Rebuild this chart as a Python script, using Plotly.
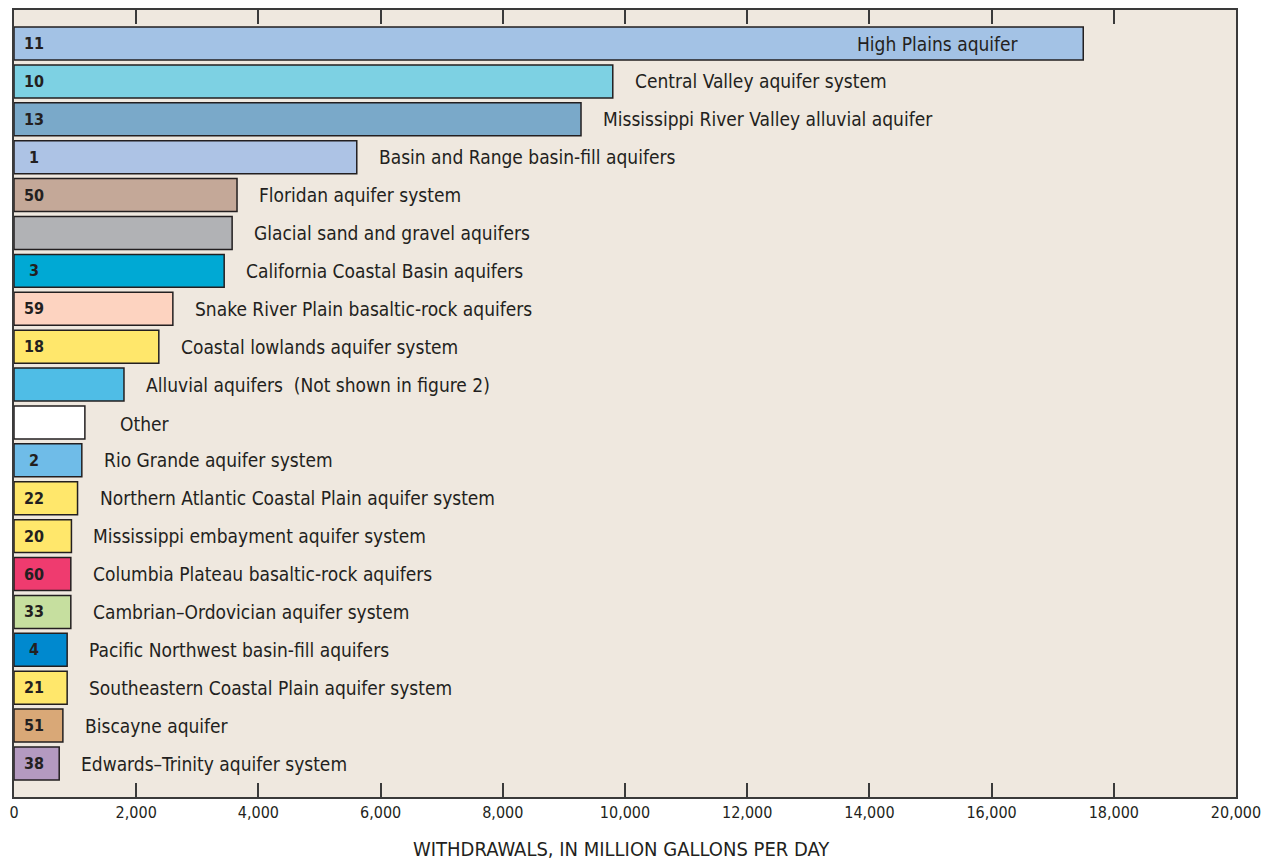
import plotly.graph_objects as go

names = [
    "High Plains aquifer",
    "Central Valley aquifer system",
    "Mississippi River Valley alluvial aquifer",
    "Basin and Range basin-fill aquifers",
    "Floridan aquifer system",
    "Glacial sand and gravel aquifers",
    "California Coastal Basin aquifers",
    "Snake River Plain basaltic-rock aquifers",
    "Coastal lowlands aquifer system",
    "Alluvial aquifers  (Not shown in figure 2)",
    "Other",
    "Rio Grande aquifer system",
    "Northern Atlantic Coastal Plain aquifer system",
    "Mississippi embayment aquifer system",
    "Columbia Plateau basaltic-rock aquifers",
    "Cambrian\u2013Ordovician aquifer system",
    "Pacific Northwest basin-fill aquifers",
    "Southeastern Coastal Plain aquifer system",
    "Biscayne aquifer",
    "Edwards\u2013Trinity aquifer system",
]
withdrawals = [17500, 9800, 9280, 5610, 3650, 3570, 3440, 2600, 2370, 1800,
               1160, 1110, 1040, 940, 930, 930, 870, 870, 800, 740]
ids = ["11", "10", "13", "1", "50", "", "3", "59", "18", "", "",
       "2", "22", "20", "60", "33", "4", "21", "51", "38"]
colors = ["#a3c2e5", "#7dd1e3", "#7aa9c9", "#adc3e5", "#c4a898", "#b1b2b5",
          "#00a9d4", "#fdd3c0", "#ffe76b", "#4fbde6", "#ffffff", "#6fbce8",
          "#ffe76b", "#ffe76b", "#ef3b6f", "#c6df9f", "#0089cf", "#ffe76b",
          "#d9a877", "#b49ac0"]
xticks = [0, 2000, 4000, 6000, 8000, 10000, 12000, 14000, 16000, 18000, 20000]
xtick_text = ["0", "2,000", "4,000", "6,000", "8,000", "10,000", "12,000",
              "14,000", "16,000", "18,000", "20,000"]
x_title = "WITHDRAWALS, IN MILLION GALLONS PER DAY"

FONT = "Liberation Sans Narrow, DejaVu Sans Condensed, Arial Narrow, sans-serif"
TXT = "#231f20"

pos = list(range(len(names)))

fig = go.Figure()
fig.add_trace(go.Bar(
    x=withdrawals, y=pos, orientation="h", width=0.87,
    marker=dict(color=colors, line=dict(color=TXT, width=1.5)),
    hoverinfo="skip",
))

anns = []
for i, (n, v, idn) in enumerate(zip(names, withdrawals, ids)):
    if i == 0:
        anns.append(dict(x=v, y=i, text=n, showarrow=False, xanchor="right",
                         xshift=-62, font=dict(family=FONT, size=19, color=TXT)))
    else:
        shift = 33 if n == "Other" else 20
        anns.append(dict(x=v, y=i, text=n, showarrow=False, xanchor="left",
                         xshift=shift, yshift=-2 if n == "Other" else 0,
                         font=dict(family=FONT, size=19, color=TXT)))
    if idn:
        anns.append(dict(x=0, y=i, text="<b>" + idn + "</b>", showarrow=False,
                         xanchor="center", xshift=19.5,
                         font=dict(family=FONT, size=16, color=TXT)))

anns.append(dict(x=0.497, y=0, xref="paper", yref="paper", text=x_title,
                 showarrow=False, xanchor="center", yanchor="middle",
                 yshift=-52, font=dict(family=FONT, size=20, color=TXT)))

fig.update_layout(
    width=1266, height=865, autosize=False,
    margin=dict(l=14, r=30, t=10, b=68, autoexpand=False),
    paper_bgcolor="white", plot_bgcolor="#efe8df",
    showlegend=False,
    annotations=anns,
    font=dict(family=FONT, color=TXT),
    xaxis=dict(
        range=[0, 20000], tickvals=xticks, ticktext=xtick_text,
        ticks="inside", ticklen=14, tickwidth=1.5, tickcolor="#3a3a3a",
        showline=True, linecolor="#3a3a3a", linewidth=1.5, mirror="ticks",
        showgrid=False, zeroline=False, automargin=False,
        tickfont=dict(family=FONT, size=16, color=TXT),
    ),
    yaxis=dict(
        range=[19.884, -0.884], showticklabels=False, ticks="",
        showline=True, linecolor="#3a3a3a", linewidth=1.5, mirror=True,
        showgrid=False, zeroline=False, automargin=False,
    ),
)

fig.write_html(
    "out.html",
    config={"displayModeBar": False, "responsive": False},
    post_script="document.body.style.margin='0';document.body.style.overflow='hidden';",
)
